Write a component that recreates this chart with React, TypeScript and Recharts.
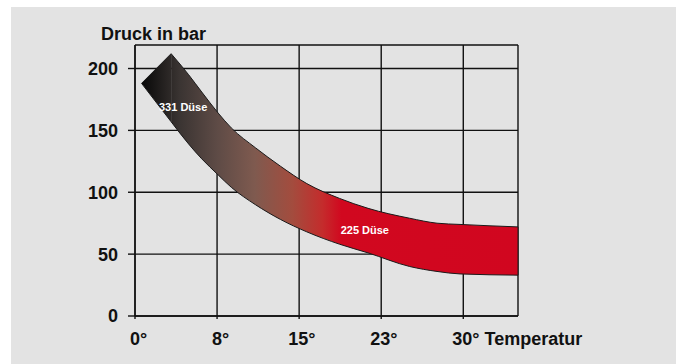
import React from 'react';
import { ComposedChart, Area, XAxis, YAxis, CartesianGrid, ReferenceDot, ReferenceLine } from 'recharts';

// Band edges (temperature -> pressure in bar)
const temperatures = [0.6, 3.3, 4.9, 6.1, 7.6, 8.8, 11.0, 13.3, 15.7, 18.7, 21.3, 25.1, 27.6, 29.7, 35];
const upperPressure = [188, 212, 195, 181, 164, 152, 136, 121, 107, 95, 87, 79, 75, 74, 72];
const lowerPressure = [188, 157, 139, 127, 114, 104, 90, 78, 68, 58, 51, 40, 36, 34, 33];

// gridlines are evenly spaced, labels are rounded
const xTicks = [0, 7.5, 15, 22.5, 30];
const xTickLabels = ['0', '8', '15', '23', '30'];
const yTicks = [0, 50, 100, 150, 200];

const yAxisTitle = 'Druck in bar';
const xAxisTitle = 'Temperatur';
const nozzleNames = ['331 Düse', '225 Düse'];

const FONT = '"Liberation Sans", Arial, Helvetica, sans-serif';
const INK = '#111';

const rows = temperatures.map((t, i) => ({ temp: t, range: [lowerPressure[i], upperPressure[i]] }));
// slanted head is straight, the rest of the band is a smooth curve
const headRows = rows.slice(0, 2);
const bodyRows = rows.slice(1);

function renderTempTick(props: any) {
    const { x, y, payload } = props;
    const i = xTicks.indexOf(payload.value);
    const num = xTickLabels[i] ?? String(payload.value);
    // center the number itself on the gridline, degree sign hangs to the right
    const start = x - num.length * 5 - (num.length > 1 ? 1 : 0);
    const suffix = i === xTicks.length - 1 ? ` ${xAxisTitle}` : '';
    return (
        <text x={start} y={y} dy="0.71em" textAnchor="start" fontFamily={FONT} fontWeight="bold" fontSize={18} fill={INK}>
            {num}°{suffix}
        </text>
    );
}

function nozzleLabel(text: string) {
    return (props: any) => (
        <text x={props.cx} y={props.cy} dy="0.35em" textAnchor="middle" fontFamily={FONT} fontWeight="bold" fontSize={11} fill="#fff">
            {text}
        </text>
    );
}

export default function App() {
    // label anchors in data coordinates
    const labelSpots = [
        { x: 4.4, y: 169 },
        { x: 21, y: 69 },
    ];
    const last = temperatures.length - 1;

    return (
        <div style={{ position: 'absolute', left: 0, top: 0, width: 680, height: 364, background: '#fff', overflow: 'hidden' }}>
            <div style={{ position: 'absolute', left: 11, top: 7, width: 665, height: 357, background: '#e3e3e3' }} />
            <div style={{ position: 'absolute', left: 0, top: 0 }}>
                <ComposedChart width={680} height={364} margin={{ top: 45, right: 162, bottom: 18, left: 0 }}>
                    <defs>
                        <linearGradient id="bandFill" gradientUnits="userSpaceOnUse" x1={142} y1={0} x2={518} y2={0}>
                            <stop offset="0" stopColor="#080808" />
                            <stop offset="0.1" stopColor="#3a3432" />
                            <stop offset="0.2" stopColor="#5e4b46" />
                            <stop offset="0.3" stopColor="#7f5a4f" />
                            <stop offset="0.4" stopColor="#a34c3e" />
                            <stop offset="0.48" stopColor="#c42c2c" />
                            <stop offset="0.53" stopColor="#d1081f" />
                            <stop offset="1" stopColor="#d1061f" />
                        </linearGradient>
                    </defs>
                    <CartesianGrid stroke={INK} strokeWidth={1.4} />
                    <XAxis
                        type="number"
                        dataKey="temp"
                        domain={[0, 35]}
                        ticks={xTicks}
                        interval={0}
                        height={30}
                        tickSize={3}
                        tickMargin={13}
                        tick={renderTempTick}
                        axisLine={{ stroke: INK, strokeWidth: 1.4 }}
                        tickLine={{ stroke: INK, strokeWidth: 1.4 }}
                    />
                    <YAxis
                        type="number"
                        domain={[0, 219]}
                        ticks={yTicks}
                        interval={0}
                        width={135}
                        tickSize={7}
                        tickMargin={10}
                        tick={{ fontFamily: FONT, fontWeight: 'bold', fontSize: 18, fill: INK }}
                        axisLine={{ stroke: INK, strokeWidth: 1.4 }}
                        tickLine={{ stroke: INK, strokeWidth: 1.4 }}
                    />
                    <Area
                        data={headRows}
                        dataKey="range"
                        type="linear"
                        fill="url(#bandFill)"
                        fillOpacity={1}
                        stroke="#1a1a1a"
                        strokeWidth={1}
                        dot={false}
                        activeDot={false}
                        isAnimationActive={false}
                    />
                    <Area
                        data={bodyRows}
                        dataKey="range"
                        type="monotoneX"
                        fill="url(#bandFill)"
                        fillOpacity={1}
                        stroke="#1a1a1a"
                        strokeWidth={1}
                        dot={false}
                        activeDot={false}
                        isAnimationActive={false}
                    />
                    {/* close the right end of the band */}
                    <ReferenceLine
                        segment={[
                            { x: temperatures[last], y: lowerPressure[last] },
                            { x: temperatures[last], y: upperPressure[last] },
                        ]}
                        stroke="#1a1a1a"
                        strokeWidth={1}
                    />
                    {nozzleNames.map((name, i) => (
                        <ReferenceDot key={name} x={labelSpots[i].x} y={labelSpots[i].y} r={0} shape={nozzleLabel(name)} />
                    ))}
                </ComposedChart>
            </div>
            <svg width={680} height={60} style={{ position: 'absolute', left: 0, top: 0, pointerEvents: 'none' }}>
                <text x={101} y={40} fontFamily={FONT} fontWeight="bold" fontSize={18} fill={INK}>
                    {yAxisTitle}
                </text>
            </svg>
        </div>
    );
}
